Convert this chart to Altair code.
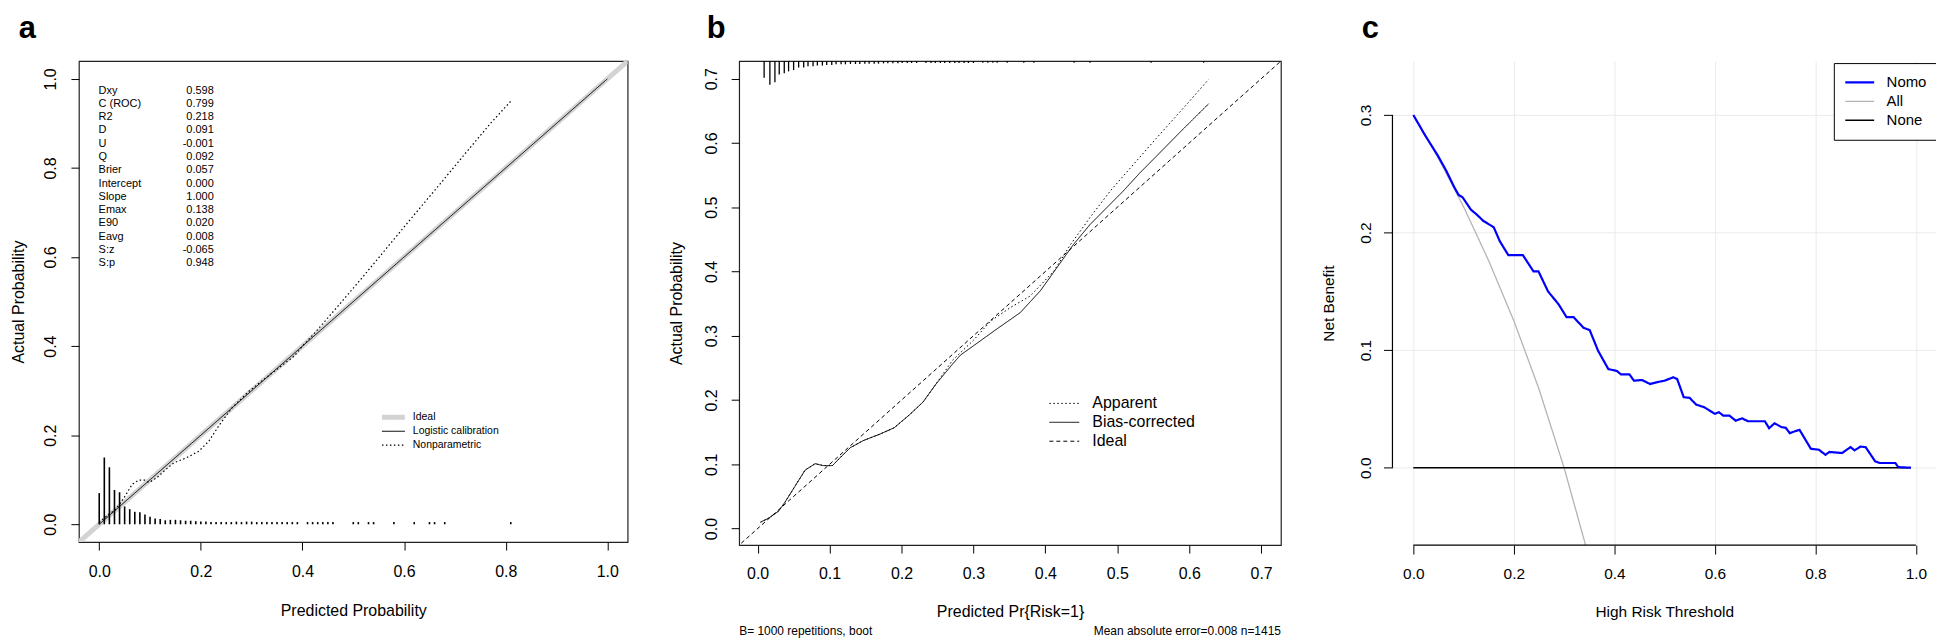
import altair as alt
import pandas as pd

FONT = "Liberation Sans"
TAG_FONT = "Liberation Sans"

# ---------------- Panel a : calibration (validation) ----------------
a_ticks = [0.0, 0.2, 0.4, 0.6, 0.8, 1.0]
a_series = ["Ideal", "Logistic calibration", "Nonparametric"]
a_ideal_x = [-0.05, 1.05]
a_ideal_y = [-0.05, 1.05]
a_logit_x = [0.0, 1.0]
a_logit_y = [0.0, 1.0]
a_np_x = [0.0, 0.012, 0.033, 0.049, 0.065, 0.078, 0.09, 0.098, 0.114, 0.131, 0.147, 0.171,
          0.196, 0.216, 0.237, 0.261, 0.294, 0.327, 0.359, 0.384, 0.40, 0.426, 0.47, 0.52,
          0.57, 0.62, 0.67, 0.72, 0.77, 0.81]
a_np_y = [0.004, 0.016, 0.034, 0.060, 0.090, 0.099, 0.099, 0.094, 0.105, 0.123, 0.138, 0.149,
          0.164, 0.187, 0.224, 0.261, 0.298, 0.328, 0.356, 0.378, 0.40, 0.432, 0.49, 0.557,
          0.626, 0.695, 0.763, 0.832, 0.90, 0.95]
a_hist_x = [0.00, 0.01, 0.02, 0.03, 0.04, 0.05, 0.06, 0.07, 0.08, 0.09, 0.10, 0.11, 0.12, 0.13,
            0.14, 0.15, 0.16, 0.17, 0.18, 0.19, 0.20, 0.21, 0.22, 0.23, 0.24, 0.25, 0.26, 0.27,
            0.28, 0.29, 0.30, 0.31, 0.32, 0.33, 0.34, 0.35, 0.36, 0.37, 0.38, 0.39, 0.41, 0.42,
            0.43, 0.44, 0.45, 0.46, 0.50, 0.51, 0.53, 0.54, 0.58, 0.62, 0.65, 0.66, 0.68, 0.81]
a_hist_h = [0.070, 0.150, 0.128, 0.077, 0.072, 0.040, 0.034, 0.028, 0.027, 0.022, 0.017, 0.013,
            0.012, 0.009, 0.010, 0.010, 0.009, 0.008, 0.008, 0.007, 0.006, 0.006, 0.005,
            0.005, 0.005, 0.005, 0.005, 0.006, 0.005, 0.006, 0.006, 0.005, 0.005, 0.005, 0.005,
            0.005, 0.005, 0.005, 0.005, 0.005,
            0.005, 0.005, 0.005, 0.005, 0.005, 0.005, 0.005, 0.005, 0.005, 0.005, 0.005, 0.005,
            0.005, 0.005, 0.005, 0.005]
a_stat_names = ["Dxy", "C (ROC)", "R2", "D", "U", "Q", "Brier", "Intercept", "Slope",
                "Emax", "E90", "Eavg", "S:z", "S:p"]
a_stat_vals = ["0.598", "0.799", "0.218", "0.091", "-0.001", "0.092", "0.057", "0.000",
               "1.000", "0.138", "0.020", "0.008", "-0.065", "0.948"]

# ---------------- Panel b : bootstrap calibration ----------------
b_ticks = [0.0, 0.1, 0.2, 0.3, 0.4, 0.5, 0.6, 0.7]
b_series = ["Apparent", "Bias-corrected", "Ideal"]
b_ideal_x = [-0.03, 0.74]
b_ideal_y = [-0.03, 0.74]
b_bias_x = [0.004, 0.015, 0.029, 0.038, 0.052, 0.066, 0.080, 0.091, 0.104, 0.117, 0.129, 0.147,
            0.170, 0.190, 0.211, 0.230, 0.248, 0.271, 0.282, 0.302, 0.333, 0.365, 0.393, 0.416,
            0.439, 0.462, 0.485, 0.508, 0.531, 0.554, 0.590, 0.627]
b_bias_y = [0.010, 0.016, 0.027, 0.041, 0.066, 0.091, 0.101, 0.098, 0.098, 0.113, 0.126, 0.137,
            0.147, 0.157, 0.177, 0.197, 0.225, 0.256, 0.270, 0.286, 0.311, 0.336, 0.370, 0.406,
            0.442, 0.473, 0.499, 0.525, 0.553, 0.579, 0.620, 0.661]
b_app_x = [0.004, 0.015, 0.029, 0.038, 0.052, 0.066, 0.080, 0.091, 0.104, 0.117, 0.129, 0.147,
           0.170, 0.190, 0.211, 0.230, 0.248, 0.271, 0.300, 0.324, 0.350, 0.379, 0.412, 0.435,
           0.462, 0.490, 0.518, 0.554, 0.590, 0.627]
b_app_y = [0.010, 0.016, 0.027, 0.041, 0.066, 0.091, 0.101, 0.098, 0.098, 0.113, 0.126, 0.137,
           0.147, 0.157, 0.177, 0.197, 0.225, 0.262, 0.293, 0.323, 0.343, 0.362, 0.401, 0.442,
           0.484, 0.525, 0.561, 0.607, 0.652, 0.699]
b_rug_x = [0.009, 0.017, 0.024, 0.030, 0.037, 0.043, 0.050, 0.057, 0.064, 0.070, 0.077, 0.083,
           0.090, 0.096, 0.103, 0.109, 0.116, 0.122, 0.129, 0.136, 0.142, 0.149, 0.155, 0.162,
           0.168, 0.175, 0.181, 0.188, 0.195, 0.201, 0.208, 0.214, 0.221, 0.234, 0.241, 0.247,
           0.254, 0.260, 0.267, 0.274, 0.280, 0.287, 0.293, 0.300, 0.313, 0.320, 0.327, 0.333,
           0.347, 0.370, 0.384, 0.440, 0.462, 0.547, 0.620]
b_rug_len = [0.026, 0.037, 0.033, 0.021, 0.019, 0.016, 0.014, 0.010, 0.010, 0.008, 0.008, 0.007,
             0.007, 0.006, 0.006, 0.005, 0.005, 0.005, 0.0045, 0.0045, 0.0045, 0.004, 0.004, 0.004,
             0.004, 0.0035, 0.0035, 0.0035, 0.0035, 0.003, 0.003, 0.003, 0.003, 0.003, 0.003, 0.003,
             0.003, 0.003, 0.003, 0.003, 0.003, 0.003, 0.003, 0.003, 0.0025, 0.0025, 0.0025, 0.0025,
             0.0025, 0.0025, 0.0025, 0.0025, 0.0025, 0.0025, 0.0025]
b_note_left = "B= 1000 repetitions, boot"
b_note_right = "Mean absolute error=0.008 n=1415"

# ---------------- Panel c : decision curve ----------------
c_xticks = [0.0, 0.2, 0.4, 0.6, 0.8, 1.0]
c_yticks = [0.0, 0.1, 0.2, 0.3]
c_series = ["Nomo", "All", "None"]
c_nomo_x = [0, 0.023, 0.048, 0.065, 0.081, 0.09, 0.098, 0.1145, 0.127, 0.139, 0.16, 0.172, 0.189,
            0.218, 0.239, 0.249, 0.268, 0.289, 0.305, 0.319, 0.3386, 0.351, 0.3676, 0.388, 0.405,
            0.413, 0.43, 0.439, 0.455, 0.471, 0.488, 0.5, 0.517, 0.525, 0.538, 0.55, 0.5626, 0.579,
            0.600, 0.608, 0.6166, 0.629, 0.6415, 0.654, 0.666, 0.6995, 0.708, 0.7187, 0.7327, 0.741,
            0.749, 0.758, 0.7685, 0.791, 0.807, 0.82, 0.828, 0.853, 0.87, 0.878, 0.89, 0.9, 0.919,
            0.928, 0.959, 0.965, 0.99]
c_nomo_y = [0.300, 0.283, 0.266, 0.253, 0.239, 0.232, 0.230, 0.2195, 0.215, 0.210, 0.2045, 0.1927,
            0.1808, 0.1808, 0.167, 0.167, 0.150, 0.139, 0.128, 0.128, 0.119, 0.117, 0.0995, 0.0839,
            0.0823, 0.0794, 0.0794, 0.074, 0.0746, 0.0712, 0.073, 0.074, 0.0769, 0.0754, 0.060,
            0.0594, 0.0537, 0.0514, 0.0458, 0.0472, 0.0443, 0.0443, 0.040, 0.042, 0.0395, 0.0395,
            0.0336, 0.0378, 0.0345, 0.034, 0.0294, 0.0308, 0.0322, 0.0161, 0.0153, 0.011, 0.0134,
            0.0125, 0.0175, 0.0148, 0.018, 0.0175, 0.0054, 0.004, 0.004, 0.0005, 0.0]
c_all_x = [0.0, 0.05, 0.10, 0.15, 0.20, 0.25, 0.30, 0.35]
c_all_y = [0.300, 0.263, 0.222, 0.176, 0.125, 0.067, 0.0, -0.077]
c_none_x = [0.0, 0.99]
c_none_y = [0.0, 0.0]

# ---------------- layout constants ----------------
A_W, A_H = 551, 483
B_W, B_H = 544, 486
C_W, C_H = 545.8, 486
a_dom = [-0.04, 1.04]
b_dom = [-0.0257, 0.7275]
c_xdom = [-0.0415, 1.04]
c_ydom = [-0.0658, 0.3458]


def series_df(name, xs, ys):
    return pd.DataFrame({"x": xs, "y": ys, "series": [name] * len(xs), "k": list(range(len(xs)))})


def x_axis(values, title, size, label_pad, title_y, width, tick=8, grid=False):
    return alt.Axis(values=values, format=".1f", title=title, domain=False, grid=grid,
                    gridColor="#ebebeb", gridWidth=1, ticks=True, tickSize=tick,
                    tickColor="black", tickWidth=1, labelFont=FONT, labelFontSize=size,
                    labelColor="black", labelPadding=label_pad, labelBaseline="alphabetic",
                    labelAlign="center", labelFlush=False, labelOverlap=False,
                    titleFont=FONT, titleFontSize=size, titleFontWeight="normal",
                    titleColor="black", titleX=width / 2, titleY=title_y, titleAlign="center",
                    titleBaseline="alphabetic")


def y_axis(values, title, size, label_pad, title_x, height, tick=8, grid=False):
    return alt.Axis(values=values, format=".1f", title=title, domain=False, grid=grid,
                    gridColor="#ebebeb", gridWidth=1, ticks=True, tickSize=tick,
                    tickColor="black", tickWidth=1, labelFont=FONT, labelFontSize=size,
                    labelColor="black", labelPadding=label_pad, labelAngle=270,
                    labelAlign="center", labelBaseline="alphabetic", labelFlush=False,
                    labelOverlap=False, titleFont=FONT, titleFontSize=size,
                    titleFontWeight="normal", titleColor="black", titleAngle=270,
                    titleX=title_x, titleY=height / 2, titleAlign="center",
                    titleBaseline="alphabetic")


def line_layer(df, name, xs, ys, dom, cols, dashes, widths, legend, xax, yax):
    return alt.Chart(df).transform_filter(alt.datum.series == name).mark_line(clip=True).encode(
        x=alt.X("x:Q", scale=xs, axis=xax),
        y=alt.Y("y:Q", scale=ys, axis=yax),
        order="k:Q",
        color=alt.Color("series:N", scale=alt.Scale(domain=dom, range=cols), legend=legend),
        strokeDash=alt.StrokeDash("series:N", scale=alt.Scale(domain=dom, range=dashes), legend=legend),
        strokeWidth=alt.StrokeWidth("series:N", scale=alt.Scale(type="ordinal", domain=dom, range=widths),
                                    legend=legend),
    )


def text_layer(txt, x, y, size, align="left", font=FONT, weight="normal", line_h=None):
    kw = dict(align=align, baseline="alphabetic", font=font, fontSize=size,
              fontWeight=weight, color="black")
    if line_h is not None:
        kw["lineBreak"] = "\n"
        kw["lineHeight"] = line_h
    return alt.Chart(pd.DataFrame({"t": [txt]})).mark_text(**kw).encode(
        text="t:N", x=alt.value(x), y=alt.value(y))


# ================= Panel a =================
a_xs = alt.Scale(domain=a_dom, nice=False, zero=False)
a_ys = alt.Scale(domain=a_dom, nice=False, zero=False)
a_lines = pd.concat([series_df("Ideal", a_ideal_x, a_ideal_y),
                     series_df("Logistic calibration", a_logit_x, a_logit_y),
                     series_df("Nonparametric", a_np_x, a_np_y)])
a_leg = alt.Legend(title=None, orient="none", legendX=301.8, legendY=350.8, direction="vertical",
                   symbolType="stroke", symbolSize=529, labelFont=FONT, labelFontSize=10.5,
                   labelColor="black", labelOffset=5.5, clipHeight=13.8, rowPadding=0, padding=0)
a_cols = ["#d3d3d3", "black", "black"]
a_dash = [[1, 0], [1, 0], [1.5, 2.5]]
a_wid = [5, 1, 1.2]
a_xax = x_axis(a_ticks, "Predicted Probability", 16, 26.75, 74, A_W)
a_yax = y_axis(a_ticks, "Actual Probability", 16, 15.5, -56, A_H)

a_hist = alt.Chart(pd.DataFrame({"x": a_hist_x, "h": a_hist_h})).transform_calculate(
    base="0").mark_rule(color="black", strokeWidth=1.6).encode(
    x=alt.X("x:Q", scale=a_xs, axis=a_xax),
    y=alt.Y("h:Q", scale=a_ys, axis=a_yax),
    y2="base:Q")

a_args = (a_xs, a_ys, a_series, a_cols, a_dash, a_wid, a_leg, a_xax, a_yax)
panel_a = alt.layer(
    line_layer(a_lines, "Ideal", *a_args),
    a_hist,
    line_layer(a_lines, "Logistic calibration", *a_args),
    line_layer(a_lines, "Nonparametric", *a_args),
    text_layer("\n".join(a_stat_names), 19.8, 32.7, 11, "left", line_h=13.33),
    text_layer("\n".join(a_stat_vals), 135.4, 32.7, 11, "right", line_h=13.33),
    text_layer("a", -60.5, -23, 31, "left", TAG_FONT, "bold"),
).properties(width=A_W, height=A_H)

# ================= Panel b =================
b_xs = alt.Scale(domain=b_dom, nice=False, zero=False)
b_ys = alt.Scale(domain=b_dom, nice=False, zero=False)
b_lines = pd.concat([series_df("Apparent", b_app_x, b_app_y),
                     series_df("Bias-corrected", b_bias_x, b_bias_y),
                     series_df("Ideal", b_ideal_x, b_ideal_y)])
b_leg = alt.Legend(title=None, orient="none", legendX=311, legendY=334.2, direction="vertical",
                   symbolType="stroke", symbolSize=900, labelFont=FONT, labelFontSize=16,
                   labelColor="black", labelOffset=12.6, clipHeight=19, rowPadding=0, padding=0)
b_cols = ["black", "black", "black"]
b_dash = [[1.5, 2.5], [1, 0], [4, 3]]
b_wid = [1, 1, 1]
b_xax = x_axis(b_ticks, "Predicted Pr{Risk=1}", 16, 25.9, 71.7, B_W)
b_yax = y_axis(b_ticks, "Actual Probability", 16, 14.3, -58, B_H)

b_rug_df = pd.DataFrame({"x": b_rug_x, "len": b_rug_len})
b_rug = alt.Chart(b_rug_df).transform_calculate(
    top=str(b_dom[1]), yend=f"{b_dom[1]} - datum.len").mark_rule(
    color="black", strokeWidth=1.3).encode(
    x=alt.X("x:Q", scale=b_xs, axis=b_xax),
    y=alt.Y("top:Q", scale=b_ys, axis=b_yax),
    y2="yend:Q")

b_args = (b_xs, b_ys, b_series, b_cols, b_dash, b_wid, b_leg, b_xax, b_yax)
panel_b = alt.layer(
    line_layer(b_lines, "Ideal", *b_args),
    line_layer(b_lines, "Apparent", *b_args),
    line_layer(b_lines, "Bias-corrected", *b_args),
    b_rug,
    text_layer(b_note_left, 0, B_H + 90.7, 12, "left"),
    text_layer(b_note_right, B_W, B_H + 90.7, 12, "right"),
    text_layer("b", -32.6, -23, 31, "left", TAG_FONT, "bold"),
).properties(width=B_W, height=B_H)

# ================= Panel c =================
c_xs = alt.Scale(domain=c_xdom, nice=False, zero=False)
c_ys = alt.Scale(domain=c_ydom, nice=False, zero=False)
c_lines = pd.concat([series_df("Nomo", c_nomo_x, c_nomo_y),
                     series_df("All", c_all_x, c_all_y),
                     series_df("None", c_none_x, c_none_y)])
c_leg = alt.Legend(title=None, orient="none", legendX=443.2, legendY=2, direction="vertical",
                   symbolType="stroke", symbolSize=841, labelFont=FONT, labelFontSize=15,
                   labelColor="black", labelOffset=11, clipHeight=18.7, rowPadding=0, padding=10,
                   strokeColor="black", fillColor="white")
c_cols = ["#0000ff", "#b4b4b4", "black"]
c_dash = [[1, 0], [1, 0], [1, 0]]
c_wid = [2.2, 1.3, 1.4]
c_xax = x_axis(c_xticks, "High Risk Threshold", 15.5, 24.9, 71.7, C_W, tick=9, grid=True)
c_yax = y_axis(c_yticks, "Net Benefit", 15.5, 13.5, -59, C_H, tick=9, grid=True)

c_ybar = alt.Chart(pd.DataFrame({"lo": [c_yticks[0]], "hi": [c_yticks[-1]]})).mark_rule(
    color="black", strokeWidth=1.2).encode(
    x=alt.value(0), y=alt.Y("lo:Q", scale=c_ys, axis=c_yax), y2="hi:Q")
c_xbar = alt.Chart(pd.DataFrame({"lo": [c_xticks[0]], "hi": [c_xticks[-1]]})).mark_rule(
    color="black", strokeWidth=1.2).encode(
    x=alt.X("lo:Q", scale=c_xs, axis=c_xax), x2="hi:Q", y=alt.value(C_H))

c_args = (c_xs, c_ys, c_series, c_cols, c_dash, c_wid, c_leg, c_xax, c_yax)
panel_c = alt.layer(
    line_layer(c_lines, "All", *c_args),
    line_layer(c_lines, "None", *c_args),
    line_layer(c_lines, "Nomo", *c_args),
    c_ybar,
    c_xbar,
    text_layer("c", -30.8, -23, 31, "left", TAG_FONT, "bold"),
).properties(width=C_W, height=C_H, view=alt.ViewBackground(stroke="transparent"))

chart = alt.hconcat(panel_a, panel_b, panel_c, spacing=112, bounds="flush").resolve_scale(
    color="independent", strokeDash="independent", strokeWidth="independent"
).resolve_legend(
    color="independent", strokeDash="independent", strokeWidth="independent"
).properties(
    autosize=alt.AutoSizeParams(type="none"),
    padding={"left": 71.2, "top": 52, "right": 1864.8, "bottom": 583},
    background="white",
).configure_view(stroke="#222222", strokeWidth=1.2)

chart.save("out.html", embed_options={"renderer": "svg", "actions": False})
